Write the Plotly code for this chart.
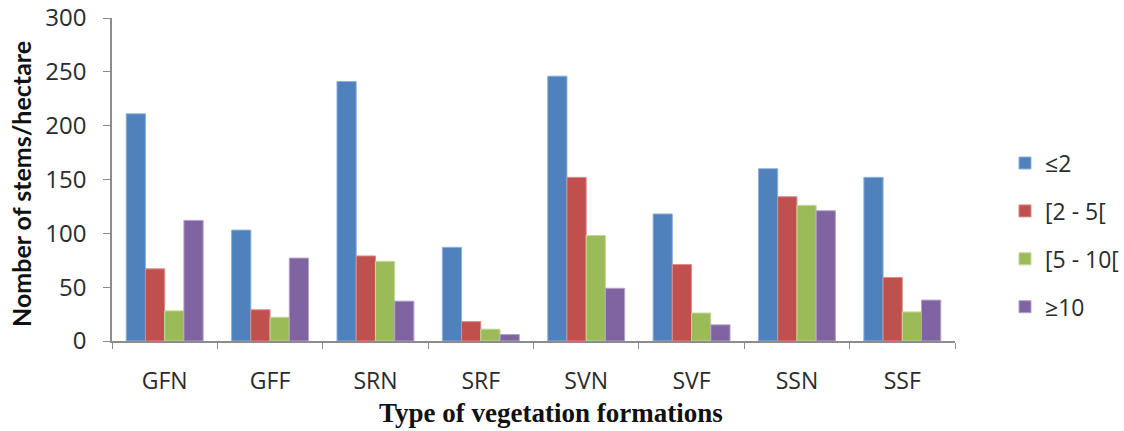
import plotly.graph_objects as go

categories = ["GFN", "GFF", "SRN", "SRF", "SVN", "SVF", "SSN", "SSF"]
series_names = ["≤2", "[2 - 5[", "[5 - 10[", "≥10"]
le2 = [211, 103, 241, 87, 246, 118, 160, 152]
r2_5 = [67, 29, 79, 18, 152, 71, 134, 59]
r5_10 = [28, 22, 74, 11, 98, 26, 126, 27]
ge10 = [112, 77, 37, 6, 49, 15, 121, 38]
y_ticks = [0, 50, 100, 150, 200, 250, 300]

series_values = [le2, r2_5, r5_10, ge10]
colors = ["#4F81BD", "#C0504D", "#9BBB59", "#8064A2"]
edges = ["#8EB1DB", "#DA8C8A", "#C4DA98", "#B3A2CB"]

fig = go.Figure()
for name, vals, c, e in zip(series_names, series_values, colors, edges):
    fig.add_trace(go.Bar(
        x=categories, y=vals, name=name, legendgroup=name,
        marker=dict(color=c, line=dict(color=e, width=1)),
    ))

font_sans = "'Open Sans', sans-serif"
txt = "#2b2b2b"
fig.update_layout(
    width=1124, height=431,
    margin=dict(l=112, r=169, t=18, b=90, autoexpand=False),
    paper_bgcolor="white", plot_bgcolor="white",
    hovermode=False,
    barmode="group", bargap=0.27, bargroupgap=0,
    font=dict(family=font_sans, size=22, color=txt),
    legend=dict(
        x=1.0593, y=0.328, xanchor="left", yanchor="middle",
        font=dict(family=font_sans, size=23, color=txt),
        tracegroupgap=15, bgcolor="rgba(0,0,0,0)",
    ),
    xaxis=dict(
        type="category", showline=True, linecolor="#8C8C8C", linewidth=1.5,
        ticks="outside", tickson="boundaries", ticklen=6, tickcolor="#8C8C8C",
        showgrid=False, automargin=False, ticklabelstandoff=19,
        tickfont=dict(family=font_sans, size=23, color=txt),
    ),
    yaxis=dict(
        range=[0, 300], tickvals=y_ticks, showline=True, linecolor="#8C8C8C", linewidth=1.5,
        ticks="outside", ticklen=7, tickcolor="#8C8C8C", showgrid=False, zeroline=False,
        automargin=False, ticklabelstandoff=12, ticklabeloverflow="allow",
        tickfont=dict(family=font_sans, size=24, color=txt),
    ),
    annotations=[
        dict(text="<b>Type of vegetation formations</b>", xref="paper", yref="paper",
             x=0.521, y=-0.222, xanchor="center", yanchor="middle", showarrow=False,
             font=dict(family="'Liberation Serif', 'Times New Roman', serif", size=27, color="#111111")),
        dict(text="<b>Nomber of stems/hectare</b>", xref="paper", yref="paper",
             x=-0.108, y=0.486, xanchor="center", yanchor="middle", showarrow=False,
             textangle=-90,
             font=dict(family="Lato, 'Open Sans', sans-serif", size=25, color="#111111")),
    ],
)

# remove the browser's default 8px body margin so the figure sits at the page origin
fig.write_html("out.html", config={"displayModeBar": False},
               post_script="document.body.style.margin='0px';")
